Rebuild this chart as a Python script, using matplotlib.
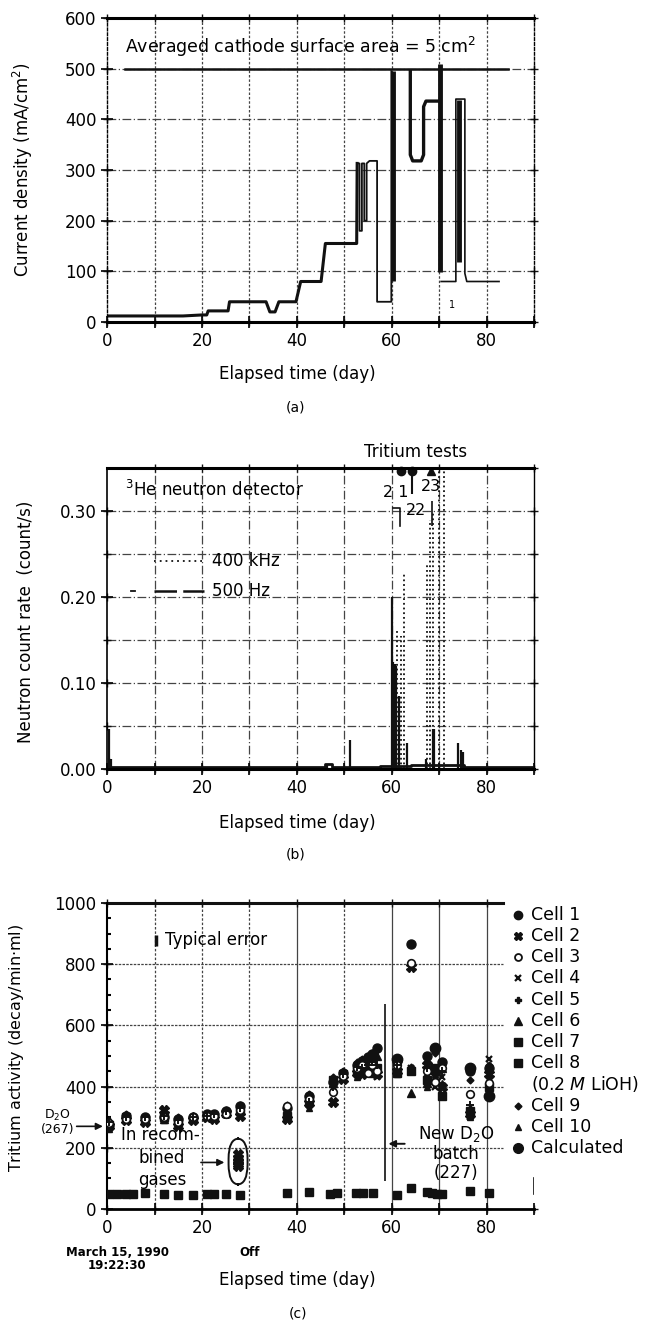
import numpy as np
import matplotlib
matplotlib.use("Agg")
import matplotlib.pyplot as plt
from matplotlib.patches import FancyBboxPatch

plt.rcParams["font.family"] = ["DejaVu Sans"]
plt.rcParams["font.size"] = 12
plt.rcParams["mathtext.fontset"] = "dejavusans"

INK = "#111111"
GRID = "#444444"
DASHDOT = (0, (7, 2, 1, 2))

# ---------------------------------------------------------------------------
# (a) current density
# ---------------------------------------------------------------------------
a_main_t = [0, 16, 20, 21, 21.3, 25.5, 25.8, 33.5, 34.3, 35.4, 36.2, 39.8,
            40.8, 45.1, 46.0, 52.6, 52.7]
a_main_v = [12, 12, 14, 14, 22, 22, 40, 40, 20, 20, 40, 40,
            80, 80, 155, 155, 313]
a_loop_t = [52.7, 53.2, 53.2, 53.7, 53.7, 54.2, 54.2, 54.7, 54.7, 55.3,
            56.9, 56.9, 59.9, 59.9]
a_loop_v = [313, 313, 180, 180, 313, 313, 200, 200, 313, 318,
            318, 40, 40, 495]
a_u_t = [63.9, 63.9, 64.4, 66.2, 66.7, 66.7, 67.2, 70.2]
a_u_v = [495, 330, 318, 318, 330, 425, 436, 436]
a_tail_t = [70.4, 73.5, 73.5, 75.4, 75.4, 75.8, 82.6]
a_tail_v = [80, 80, 440, 440, 96, 80, 80]
a_bar_t = [60.3, 70.2, 74.1]
a_bar_lo = [80, 98, 118]
a_bar_hi = [495, 510, 438]
a_limit_t = [3.7, 84.5]
a_limit_v = [500, 500]

# ---------------------------------------------------------------------------
# (b) neutron count rate
# ---------------------------------------------------------------------------
b_base_t = [0, 46.0, 46.0, 47.3, 47.3, 57.5, 57.5, 60.0, 64.0, 64.0, 75.2, 75.2, 90]
b_base_v = [0.002, 0.002, 0.006, 0.006, 0.002, 0.002, 0.004, 0.004, 0.004,
            0.005, 0.005, 0.002, 0.002]
b_solid_t = [0.3, 0.5, 0.8, 46.3, 51.2, 60.0, 60.3, 60.6, 60.9, 61.6, 63.3,
             67.3, 68.6, 68.9, 74.0, 74.5, 75.0]
b_solid_v = [0.047, 0.013, 0.012, 0.006, 0.034, 0.200, 0.125, 0.122, 0.120,
             0.085, 0.030, 0.012, 0.046, 0.046, 0.030, 0.022, 0.020]
b_dot_t = [61.2, 61.9, 62.6, 67.5, 68.0, 68.6, 69.9, 71.0]
b_dot_v = [0.160, 0.155, 0.228, 0.238, 0.290, 0.300, 0.350, 0.350]
test_ids = ["21", "22", "23"]
test_t = [61.9, 64.3, 68.2]
test_marker = ["o", "o", "^"]

# ---------------------------------------------------------------------------
# (c) tritium activity
# ---------------------------------------------------------------------------
c_days = [0.5, 4.0, 8.0, 12.0, 15.0, 18.0, 21.0, 22.5, 25.0, 28.0, 38.0, 42.5,
          47.7, 49.8, 52.7, 53.8, 54.9, 55.9, 56.8, 61.0, 64.0, 67.5, 69.0,
          70.5, 76.5, 80.5]
cell1 = [275, 305, 300, 300, 295, 300, 310, 310, 320, 335, 330, 370, 415, 445,
         470, 485, 495, 505, 525, 485, 865, 500, 525, 480, 450, 460]
cell2 = [270, 290, 285, 325, 270, 290, 300, 295, 315, 305, 295, 345, 348, 425,
         445, 440, 460, 450, 440, 450, 790, 470, 450, 400, 310, 440]
cell3 = [280, 295, 295, 300, 285, 300, 305, 305, 310, 325, 335, 360, 382, 435,
         460, 470, 445, 470, 450, 470, 805, 450, 415, 460, 375, 410]
cell4 = [265, 300, 290, 328, 280, 290, 295, 300, 310, 310, 290, 340, 345, 430,
         440, 455, 440, 465, 430, 460, 460, 440, 400, 430, 300, 490]
cell5 = [285, 300, 300, 305, 290, 300, 305, 310, 320, 330, 310, 350, 400, 440,
         465, 460, 470, 480, 470, 470, 450, 460, 440, 450, 340, 450]
cell6 = [290, 295, 295, 295, 290, 305, 310, 305, 320, 320, 315, 355, 410, 430,
         455, 480, 480, 490, 500, 460, 380, 410, 430, 460, 330, 420]
cell7 = [275, 300, 290, 300, 285, 295, 305, 300, 315, 320, 305, 360, 420, 440,
         450, 450, 460, 470, 460, 445, 450, 420, 460, 370, 320, 400]
cell9 = [270, 310, 300, 310, 300, 300, 310, 310, 325, 340, 340, 375, 430, 450,
         480, 490, 500, 510, 520, 480, 465, 480, 510, 470, 420, 470]
cell10 = [260, 290, 295, 290, 280, 290, 300, 300, 310, 310, 300, 330, 400, 425,
          430, 440, 450, 440, 440, 440, 455, 400, 440, 410, 300, 380]
c8_days = [0.5, 2.0, 4.0, 5.5, 8.0, 12.0, 15.0, 18.0, 21.0, 22.5, 25.0, 28.0,
           38.0, 42.5, 47.0, 48.5, 52.5, 54.0, 56.0, 61.0, 64.0, 67.5, 68.5,
           69.5, 70.5, 76.5, 80.5]
cell8 = [48, 50, 48, 50, 52, 50, 45, 45, 48, 48, 48, 45, 52, 55, 50, 52, 52, 52,
         52, 45, 70, 55, 52, 50, 48, 58, 52]
calc_days = [61.0, 69.0, 76.5, 80.5]
calc_vals = [490, 525, 460, 370]
rec_day = 27.5
rec_vals = [180, 168, 158, 148, 140]
cell_labels = ["Cell 1", "Cell 2", "Cell 3", "Cell 4", "Cell 5", "Cell 6",
               "Cell 7", "Cell 8", "(0.2 $\\it{M}$ LiOH)", "Cell 9", "Cell 10",
               "Calculated"]

fig = plt.figure(figsize=(6.53, 13.22), dpi=100)
ax_a = fig.add_axes([0.164, 0.7564, 0.654, 0.2300])
ax_b = fig.add_axes([0.164, 0.4183, 0.654, 0.2277])
ax_c = fig.add_axes([0.164, 0.0855, 0.654, 0.2315])


def crosses(ax, xs, ys):
    gx, gy = np.meshgrid(xs, ys)
    ax.plot(gx.ravel(), gy.ravel(), "+", color=INK, ms=6, mew=1.0,
            zorder=2, clip_on=False)


# ---------------------------------------------------------------- panel (a)
ax = ax_a
ax.set_xlim(0, 90)
ax.set_ylim(0, 600)
for x in range(10, 90, 10):
    ax.axvline(x, color=GRID, lw=0.9, ls=(0, (2, 1.5)), zorder=0)
for y in [100, 200, 300, 400]:
    ax.axhline(y, color=GRID, lw=0.9, ls=DASHDOT, zorder=0)
ax.axhline(500, color=GRID, lw=0.9, ls=DASHDOT, zorder=0)
crosses(ax, np.arange(0, 91, 10), [0, 600])
crosses(ax, [0, 90], np.arange(100, 600, 100))
ax.plot(a_limit_t, a_limit_v, color=INK, lw=1.8)
ax.plot(a_main_t, a_main_v, color=INK, lw=2.2, solid_joinstyle="round")
ax.plot(a_loop_t, a_loop_v, color=INK, lw=1.3)
ax.plot(a_u_t, a_u_v, color=INK, lw=2.4, solid_joinstyle="round")
ax.plot(a_tail_t, a_tail_v, color=INK, lw=1.2)
ax.vlines(a_bar_t, a_bar_lo, a_bar_hi, color=INK, lw=3.5)
ax.text(72.7, 33, "1", fontsize=7, ha="center", va="center")
ax.text(3.8, 542, "Averaged cathode surface area = 5 cm$^2$", fontsize=12.5,
        ha="left", va="center")
ax.set_xticks([0, 20, 40, 60, 80])
ax.set_xticks([10, 30, 50, 70, 90], minor=True)
ax.set_yticks(range(0, 601, 100))
ax.set_ylabel("Current density (mA/cm$^2$)", fontsize=12)
ax.yaxis.set_label_coords(-0.169, 0.5)
ax.text(0.445, -0.17, "Elapsed time (day)", transform=ax.transAxes,
        ha="center", va="center", fontsize=12)
for s in ["top", "bottom"]:
    ax.spines[s].set_linewidth(2.2)
for s in ["left", "right"]:
    ax.spines[s].set_linewidth(1.0)
    ax.spines[s].set_linestyle((0, (2, 1.5)))

# ---------------------------------------------------------------- panel (b)
ax = ax_b
ax.set_xlim(0, 90)
ax.set_ylim(0, 0.35)
for x in range(10, 90, 10):
    ax.axvline(x, color=GRID, lw=0.9, ls=DASHDOT, zorder=0)
for y in [0.05, 0.10, 0.15, 0.20, 0.25, 0.30]:
    ax.axhline(y, color=GRID, lw=0.9, ls=DASHDOT, zorder=0)
crosses(ax, np.arange(0, 91, 10), [0])
crosses(ax, [0, 90], np.arange(0.05, 0.31, 0.05))
crosses(ax, np.arange(10, 91, 10), [0.35])
ax.plot(b_base_t, b_base_v, color=INK, lw=2.0)
ax.vlines(b_solid_t, 0, b_solid_v, color=INK, lw=1.6)
ax.vlines(b_dot_t, 0, b_dot_v, color=INK, lw=1.3, linestyles=(0, (1, 1.6)))
for tid, t, m in zip(test_ids, test_t, test_marker):
    ax.plot([t], [0.346], marker=m, color=INK, ms=6, clip_on=False)
ax.vlines([64.3], 0.320, 0.346, color=INK, lw=1.5)
ax.plot([60.2, 61.8, 61.8], [0.303, 0.303, 0.283], color=INK, lw=1.2)
ax.vlines([68.4], 0.283, 0.312, color=INK, lw=1.2)
ax.text(60.8, 0.322, "2 1", fontsize=11.5, ha="center", va="center")
ax.text(65.0, 0.300, "22", fontsize=11.5, ha="center", va="center")
ax.text(68.3, 0.328, "23", fontsize=11.5, ha="center", va="center")
ax.text(65.0, 0.369, "Tritium tests", fontsize=12, ha="center", va="center",
        clip_on=False)
ax.text(3.8, 0.324, "$^3$He neutron detector", fontsize=12, ha="left",
        va="center")
ax.plot([9.9, 20.5], [0.242, 0.242], color=INK, lw=1.3, ls=(0, (1, 2.2)))
ax.text(22.2, 0.242, "400 kHz", fontsize=12, ha="left", va="center")
ax.plot([5.0, 5.8], [0.207, 0.207], color=INK, lw=1.3)
ax.plot([9.9, 20.5], [0.207, 0.207], color=INK, lw=1.8, ls=(0, (9, 2.5)))
ax.text(22.2, 0.207, "500 Hz", fontsize=12, ha="left", va="center")
ax.set_xticks([0, 20, 40, 60, 80])
ax.set_xticks([10, 30, 50, 70, 90], minor=True)
ax.set_yticks([0.0, 0.1, 0.2, 0.3])
ax.set_yticklabels(["0.00", "0.10", "0.20", "0.30"])
ax.set_ylabel("Neutron count rate  (count/s)", fontsize=12)
ax.yaxis.set_label_coords(-0.169, 0.49)
ax.text(0.445, -0.18, "Elapsed time (day)", transform=ax.transAxes,
        ha="center", va="center", fontsize=12)
ax.spines["top"].set_linewidth(2.2)
ax.spines["bottom"].set_linewidth(2.2)
ax.spines["left"].set_linewidth(1.2)
ax.spines["right"].set_linewidth(1.0)

# ---------------------------------------------------------------- panel (c)
ax = ax_c
ax.set_xlim(0, 90)
ax.set_ylim(0, 1000)
for x in range(10, 90, 10):
    style = "-" if x in (40, 60, 70, 80) else (0, (2, 1.5))
    ax.vlines(x, 0, 1000, color=GRID, lw=0.9, ls=style, zorder=0)
ax.hlines([200, 400, 600, 800], 0, 83.5, color=GRID, lw=0.9,
          ls=(0, (2, 1)), zorder=0)
ax.plot([0, 83.5], [1000, 1000], color=INK, lw=2.2, clip_on=False)
crosses(ax, np.arange(0, 91, 10), [0])
crosses(ax, np.arange(0, 81, 10), [1000])
crosses(ax, [0], np.arange(200, 1000, 200))
ax.plot([90, 90], [50, 100], color=INK, lw=1.2)

ax.plot(c_days, cell1, "o", color=INK, ms=6.5, zorder=3)
ax.plot(c_days, cell2, "X", color=INK, ms=6.5, zorder=3)
ax.plot(c_days, cell4, "x", color=INK, ms=5, mew=1.6, zorder=3)
ax.plot(c_days, cell6, "^", color=INK, ms=5.5, zorder=3)
ax.plot(c_days, cell7, "s", color=INK, ms=5.5, zorder=3)
ax.plot(c_days, cell9, "D", color=INK, ms=3.5, zorder=3)
ax.plot(c_days, cell10, "^", color=INK, ms=4, zorder=3)
ax.plot(c_days, cell3, "o", mfc="white", mec=INK, ms=5.5, mew=1.2, zorder=4)
ax.plot(c_days, cell5, "+", color=INK, ms=5.5, mew=1.4, zorder=5)
ax.plot(c8_days, cell8, "s", color=INK, ms=6, zorder=3)
ax.plot(calc_days, calc_vals, "o", color=INK, ms=7.5, zorder=3)
ax.plot([rec_day] * len(rec_vals), rec_vals, "X", color=INK, ms=6.5, zorder=3)

# typical error bar
ax.vlines(10.3, 860, 895, color=INK, lw=2.5)
ax.text(12.3, 878, "Typical error", fontsize=12, ha="left", va="center")

# recombined gases
box = FancyBboxPatch((25.6, 80), 4.0, 150, boxstyle="round,pad=0,rounding_size=2.2",
                     mutation_aspect=30, fill=False, ec=INK, lw=1.4, zorder=4)
ax.add_patch(box)
ax.text(3.0, 243, "In recom-", fontsize=12, ha="left", va="center")
ax.text(6.6, 167, "bined", fontsize=12, ha="left", va="center")
ax.text(6.6, 96, "gases", fontsize=12, ha="left", va="center")
ax.annotate("", xy=(25.3, 152), xytext=(19.2, 152),
            arrowprops=dict(arrowstyle="-|>", color=INK, lw=1.2,
                            mutation_scale=10))

# D2O reference level
ax.text(-10.5, 285, "D$_2$O\n(267)", fontsize=9, ha="center", va="center",
        linespacing=0.95, clip_on=False)
ax.annotate("", xy=(-0.3, 270), xytext=(-7.0, 270),
            arrowprops=dict(arrowstyle="-|>", color=INK, lw=1.2,
                            mutation_scale=10), annotation_clip=False)

# new D2O batch
ax.vlines(58.5, 90, 670, color=INK, lw=1.2)
ax.annotate("", xy=(58.7, 213), xytext=(63.3, 213),
            arrowprops=dict(arrowstyle="-|>", color=INK, lw=1.4,
                            mutation_scale=10))
ax.text(73.5, 245, "New D$_2$O", fontsize=12, ha="center", va="center")
ax.text(73.5, 180, "batch", fontsize=12, ha="center", va="center")
ax.text(73.5, 118, "(227)", fontsize=12, ha="center", va="center")

# legend
leg_m = [dict(marker="o", ms=6), dict(marker="X", ms=6),
         dict(marker="o", ms=5, mfc="white", mew=1.3),
         dict(marker="x", ms=5, mew=1.6), dict(marker="P", ms=5),
         dict(marker="^", ms=5.5), dict(marker="s", ms=5.5),
         dict(marker="s", ms=5.5), None, dict(marker="D", ms=3.5),
         dict(marker="^", ms=4.5), dict(marker="o", ms=7)]
leg_top, leg_step = 962, 69.4
for i, (lab, mk) in enumerate(zip(cell_labels, leg_m)):
    yy = leg_top - i * leg_step
    if mk is not None:
        ax.plot([86.7], [yy], ls="none", color=INK, mec=INK, clip_on=False, **mk)
    ax.text(89.3, yy, lab, fontsize=12.5, ha="left", va="center", clip_on=False)

ax.set_xticks([0, 20, 40, 60, 80])
ax.set_xticks([10, 30, 50, 70, 90], minor=True)
ax.set_yticks(range(0, 1001, 200))
ax.set_yticks(range(50, 1000, 50), minor=True)
ax.tick_params(axis="y", which="minor", direction="in", length=3, width=1.5)
ax.set_ylabel("Tritium activity (decay/min$\\cdot$ml)", fontsize=11.5)
ax.yaxis.set_label_coords(-0.19, 0.526)
ax.text(2.1, -165, "March 15, 1990\n19:22:30", fontsize=8.5, fontweight="bold",
        ha="center", va="center", linespacing=1.0, clip_on=False)
ax.text(30.0, -143, "Off", fontsize=8.5, fontweight="bold", ha="center",
        va="center", clip_on=False)
ax.text(0.445, -0.233, "Elapsed time (day)", transform=ax.transAxes,
        ha="center", va="center", fontsize=12)
ax.spines["top"].set_visible(False)
ax.spines["right"].set_visible(False)
ax.spines["bottom"].set_linewidth(2.0)
ax.spines["left"].set_linewidth(1.5)

for ax in (ax_a, ax_b, ax_c):
    ax.tick_params(which="major", direction="inout", length=9, width=1.2,
                   labelsize=12, pad=3)
    ax.tick_params(axis="x", which="minor", direction="inout", length=9,
                   width=1.2)
    ax.set_facecolor("none")

fig.text(0.453, 0.6914, "(a)", ha="center", va="center", fontsize=10)
fig.text(0.453, 0.3533, "(b)", ha="center", va="center", fontsize=10)
fig.text(0.456, 0.0068, "(c)", ha="center", va="center", fontsize=10)

fig.savefig("out.png", dpi=100)
